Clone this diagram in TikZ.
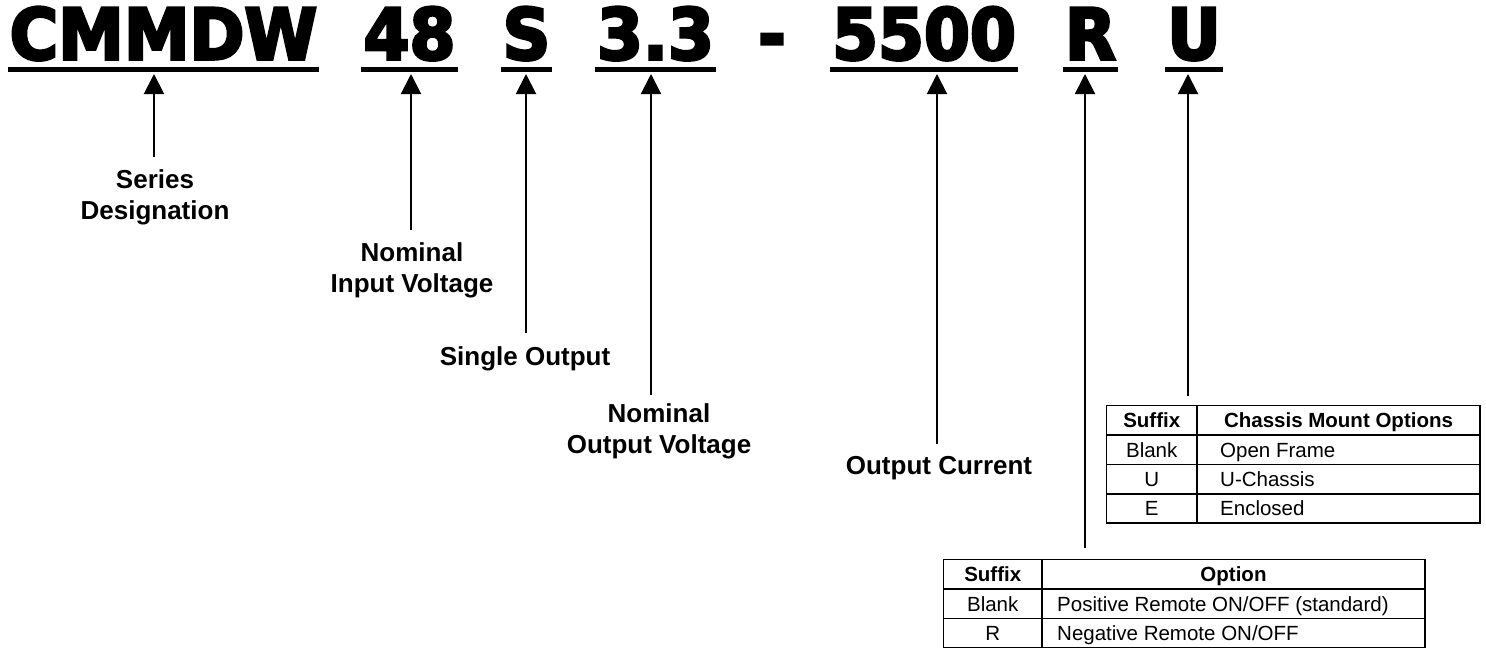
\documentclass[tikz,border=0pt]{standalone}
\usepackage{fontspec}
\setmainfont{Liberation Sans}
\newfontfamily\titlefont[FakeStretch=0.93,FakeBold=4]{DejaVu Sans Bold}
\usetikzlibrary{arrows.meta}
\begin{document}
\begin{tikzpicture}[x=1pt,y=-1pt,
  title/.style={font=\titlefont\fontsize{71}{71}\selectfont, inner sep=0pt, anchor=base},
  ul/.style={line width=5.5pt},
  arr/.style={line width=2pt, -{Triangle[width=20pt,length=20pt]}},
  lab/.style={font=\bfseries\fontsize{26}{30.5}\selectfont, align=center, inner sep=0pt, anchor=base},
  cell/.style={font=\fontsize{20.5}{24}\selectfont, inner sep=0pt, text height=14.6pt, text depth=0pt},
  hcell/.style={cell, font=\bfseries\fontsize{20.5}{24}\selectfont},
  grid/.style={line width=1.8pt}
]
\useasboundingbox (0,0) rectangle (1486,649);
% title segments
\node[title] (tC)  at (163.5,59.5) {CMMDW};
\node[title] (t48) at (409.5,59.5) {48};
\node[title] (tS)  at (526.5,59.5) {S};
\node[title] (t33) at (655.5,59.5) {3.3};
\node[title] (tD)  at (772,59.5) {-};
\node[title] (t55) at (924,59.5) {5500};
\node[title] (tR)  at (1090.5,59.5) {R};
\node[title] (tU)  at (1194,59.5) {U};
\foreach \n in {tC,t48,tS,t33,t55,tR,tU}
  \draw[ul] ([shift={(-2,10)}]\n.base west) -- ([shift={(2,10)}]\n.base east);
% arrow tips level
\coordinate (tip) at (0,74);
% labels (anchor = baseline of last line)
\node[lab] (lSD)  at (155,219) {Series\\Designation};
\node[lab] (lNIV) at (412,292) {Nominal\\Input Voltage};
\node[lab] (lSO)  at (525,365) {Single Output};
\node[lab] (lNOV) at (659,453) {Nominal\\Output Voltage};
\node[lab] (lOC)  at (939,474) {Output Current};
% arrow feet
\coordinate (eC)  at (154,157);
\coordinate (e48) at (411,230);
\coordinate (eS)  at (526,333);
\coordinate (e33) at (651,395);
\coordinate (e55) at (937,444);
\coordinate (eR)  at (1085,548);
\coordinate (eU)  at (1188,396);
\foreach \e in {eC,e48,eS,e33,e55,eR,eU}
  \draw[arr] (\e) -- (\e |- tip);
% table 1
\draw[grid] (1106.5,405.5) rectangle (1480,523);
\draw[grid] (1106.5,435) -- (1480,435);
\draw[grid] (1106.5,464.5) -- (1480,464.5);
\draw[grid] (1106.5,494) -- (1480,494);
\draw[grid] (1197,405.5) -- (1197,523);
\node[hcell] (a11) at (1151.75,420.25) {Suffix};
\node[hcell] (a12) at (1338.5,420.25) {Chassis Mount Options};
\node[cell] (a21) at (1151.75,449.75) {Blank};
\node[cell,anchor=west] (a22) at (1220,449.75) {Open Frame};
\node[cell] (a31) at (1151.75,479.25) {U};
\node[cell,anchor=west] (a32) at (1220,479.25) {U-Chassis};
\node[cell] (a41) at (1151.75,508.5) {E};
\node[cell,anchor=west] (a42) at (1220,508.5) {Enclosed};
% table 2
\draw[grid] (943.5,559.5) rectangle (1425,647.5);
\draw[grid] (943.5,589) -- (1425,589);
\draw[grid] (943.5,618.5) -- (1425,618.5);
\draw[grid] (1042,559.5) -- (1042,647.5);
\node[hcell] (b11) at (992.75,574.25) {Suffix};
\node[hcell] (b12) at (1233.5,574.25) {Option};
\node[cell] (b21) at (992.75,603.75) {Blank};
\node[cell,anchor=west] (b22) at (1057,603.75) {Positive Remote ON/OFF (standard)};
\node[cell] (b31) at (992.75,633) {R};
\node[cell,anchor=west] (b32) at (1057,633) {Negative Remote ON/OFF};
\end{tikzpicture}
\end{document}
